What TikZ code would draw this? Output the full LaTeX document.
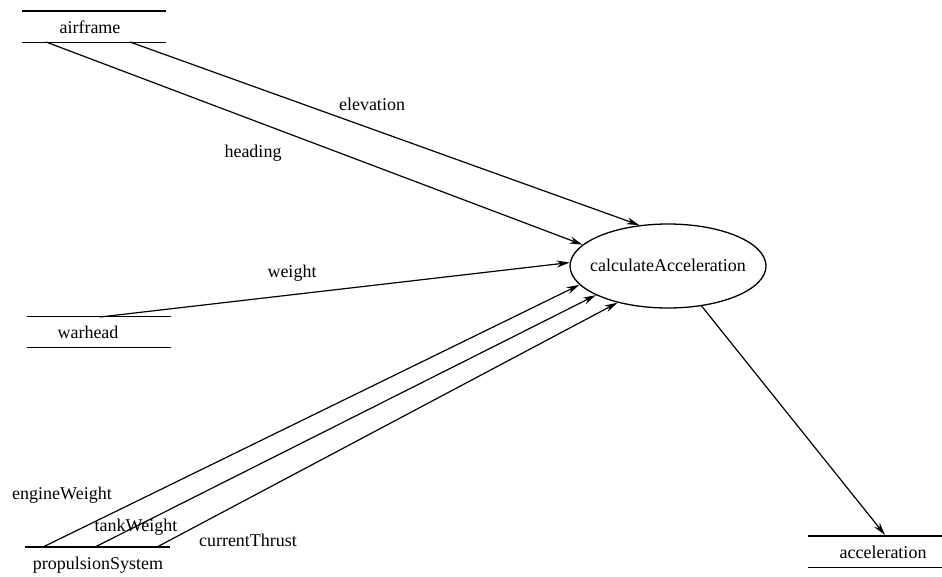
\documentclass[tikz,border=0pt]{standalone}
\usepackage{fontspec}
\setmainfont{Liberation Serif}
\usetikzlibrary{shapes.geometric,arrows.meta}
\begin{document}
\begin{tikzpicture}[x=1pt,y=-1pt,
  every node/.style={font=\fontsize{18}{21}\selectfont},
  store/.style={minimum height=31pt, inner sep=0pt},
  storeline/.style={line width=1.4pt},
  process/.style={ellipse, draw, line width=1.3pt, minimum width=196pt, minimum height=84pt, inner sep=0pt},
  flow/.style={line width=1.2pt, -{Stealth[length=13pt,width=7pt]}},
  lbl/.style={inner sep=1pt}]
\useasboundingbox (0,0) rectangle (942,576);

% data stores (two horizontal lines each)
\node[store, minimum width=144pt] (airframe) at (94,26.5) {};
\node (airframeT) at (90,27) {airframe};
\node[store, minimum width=144pt] (warhead) at (99,332) {};
\node (warheadT) at (88,332) {warhead};
\node[store, minimum width=145pt] (propulsion) at (97.5,562.5) {};
\node (propulsionT) at (98,565) {propulsionSystem};
\node[store, minimum width=136pt] (acceleration) at (876,551.5) {};
\node (accelerationT) at (883,552) {acceleration};
\foreach \s in {airframe,warhead,propulsion,acceleration}{
  \draw[storeline] (\s.north west) -- (\s.north east);
  \draw[storeline] (\s.south west) -- (\s.south east);
}

% process bubble and its name
\node[process] (calc) at (668,266) {};
\node (calcT) at (668,265) {calculateAcceleration};

% connector ends on the stores
\coordinate (afA) at (46,42);
\coordinate (afB) at (130,42);
\coordinate (wh) at (100,317);
\coordinate (psA) at (43,547);
\coordinate (psB) at (95,547);
\coordinate (psC) at (157,547);
\coordinate (acc) at (885,535);

% flows
\draw[flow] (afB) -- (calc.125.8);
\draw[flow] (afA) -- (calc.166.3);
\draw[flow] (wh) -- (calc.178.3);
\draw[flow] (psA) -- (calc.192.7);
\draw[flow] (psB) -- (calc.202.3);
\draw[flow] (psC) -- (calc.216.5);
\draw[flow] (calc.310.7) -- (acc);

% flow labels
\node[lbl] (lElev) at (372,104) {elevation};
\node[lbl] (lHead) at (253,153) {heading};
\node[lbl] (lWeight) at (292,273) {weight};
\node[lbl] (lEngine) at (62,495) {engineWeight};
\node[lbl] (lTank) at (136,527) {tankWeight};
\node[lbl] (lThrust) at (248,540) {currentThrust};
\end{tikzpicture}
\end{document}
